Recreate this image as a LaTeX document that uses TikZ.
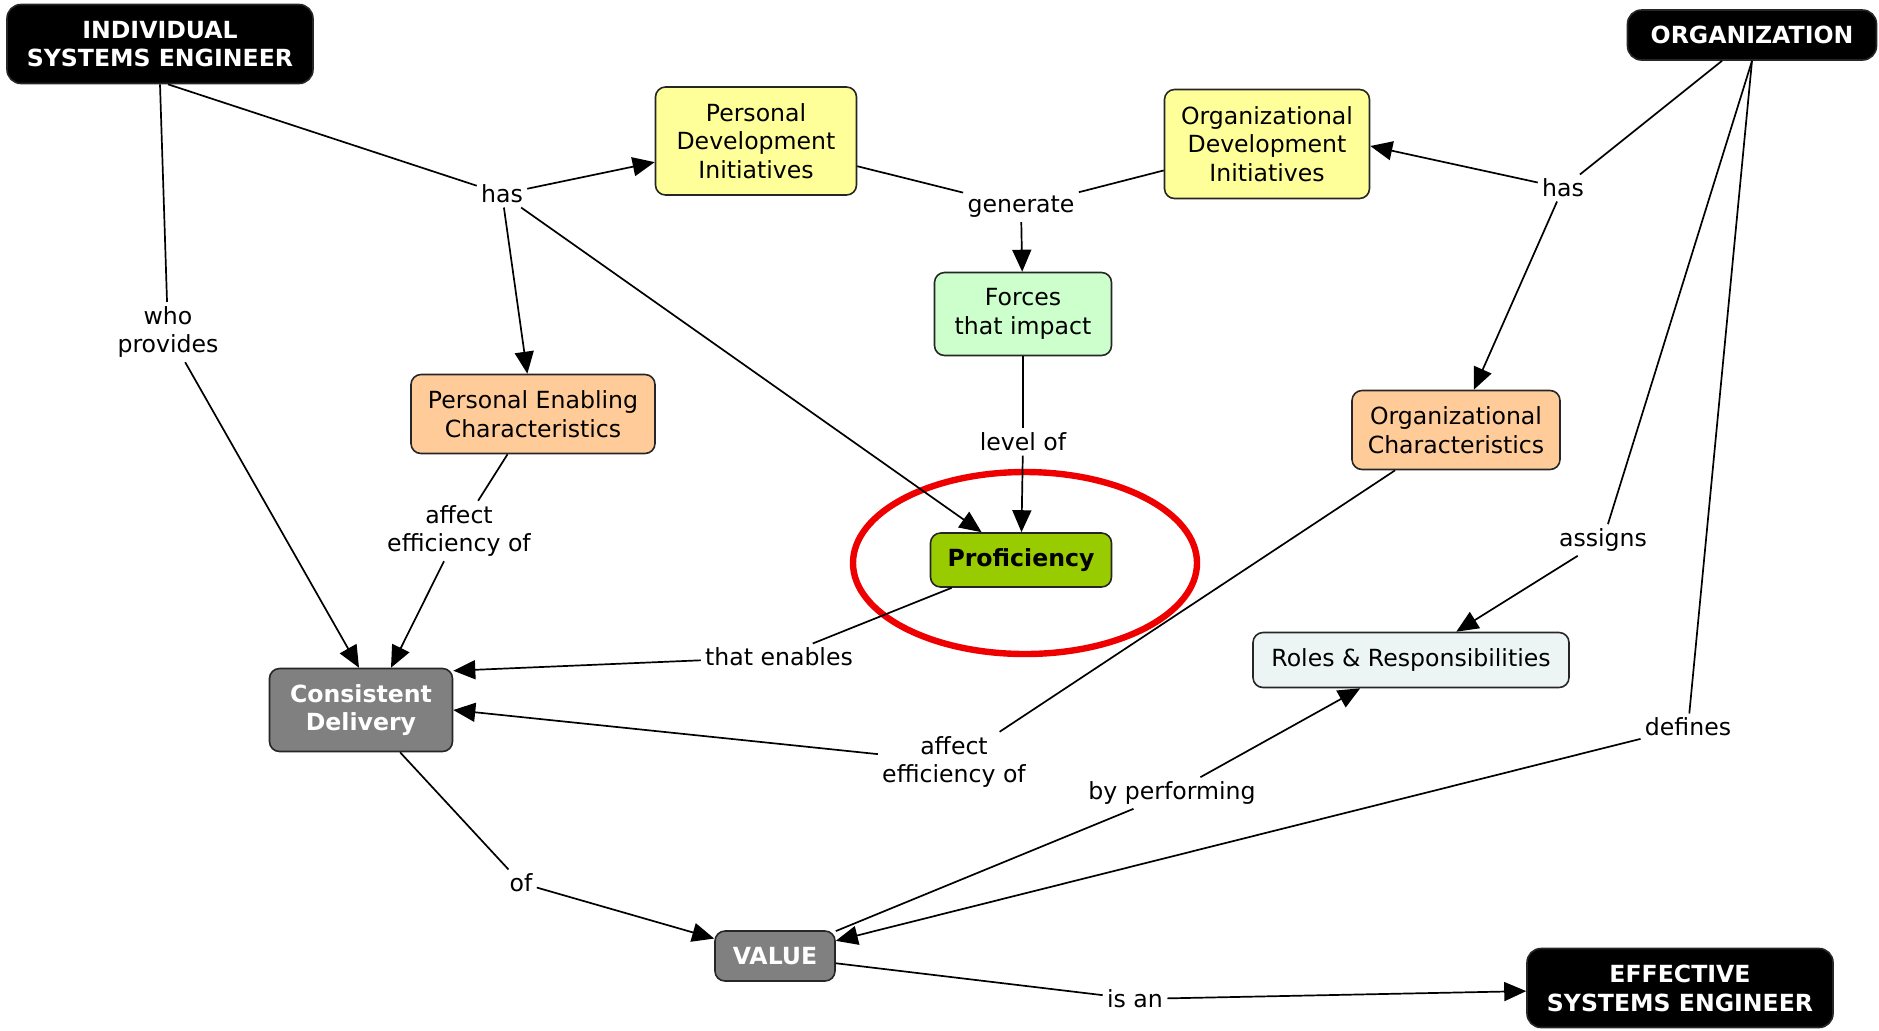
\documentclass[tikz,border=0pt]{standalone}
\usepackage{fontspec}
\setmainfont{DejaVu Sans}
\usetikzlibrary{arrows.meta,calc}

\definecolor{devyellow}{HTML}{FFFF99}
\definecolor{forcegreen}{HTML}{CCFFCC}
\definecolor{charorange}{HTML}{FFCC99}
\definecolor{profgreen}{HTML}{99CC00}
\definecolor{deliverygray}{HTML}{808080}
\definecolor{rolesblue}{HTML}{EDF4F4}
\definecolor{markred}{HTML}{EE0000}

\begin{document}
\begin{tikzpicture}[x=0.5pt,y=-0.5pt,
  concept/.style={draw=black!85, line width=0.8pt, rounded corners=5pt,
    align=center, inner sep=0pt,
    font=\fontsize{11.8}{14.4}\selectfont},
  keynode/.style={concept, fill=black, text=white, rounded corners=7pt,
    font=\bfseries\fontsize{11.8}{14.4}\selectfont},
  devnode/.style={concept, fill=devyellow},
  forcenode/.style={concept, fill=forcegreen},
  charnode/.style={concept, fill=charorange},
  profnode/.style={concept, fill=profgreen,
    font=\bfseries\fontsize{11.8}{14.4}\selectfont},
  graynode/.style={concept, fill=deliverygray, text=white,
    font=\bfseries\fontsize{11.8}{14.4}\selectfont},
  rolesnode/.style={concept, fill=rolesblue},
  link/.style={inner sep=2pt, align=center,
    font=\fontsize{11.8}{14.4}\selectfont},
  conn/.style={line width=0.85pt, black},
  arr/.style={conn, -{Triangle[length=11pt,width=9.5pt]}},
]
\useasboundingbox (0,0) rectangle (1879,1030);

% highlight ring around the proficiency concept
\draw[markred, line width=3.2pt] (1025,563) ellipse [x radius=172, y radius=91];

% concepts
\node[keynode, minimum width=153pt, minimum height=39.5pt] (ise) at (160,44)
  {INDIVIDUAL\\SYSTEMS ENGINEER};
\node[keynode, minimum width=124.5pt, minimum height=25pt] (org) at (1752,35)
  {ORGANIZATION};
\node[devnode, minimum width=100.5pt, minimum height=54pt] (pdi) at (756,141)
  {Personal\\Development\\Initiatives};
\node[devnode, minimum width=102.5pt, minimum height=54.5pt] (odi) at (1267,144)
  {Organizational\\Development\\Initiatives};
\node[forcenode, minimum width=88.5pt, minimum height=41.5pt] (forces) at (1023,314)
  {Forces\\that impact};
\node[charnode, minimum width=122pt, minimum height=39.5pt] (pec) at (533,414)
  {Personal Enabling\\Characteristics};
\node[charnode, minimum width=104pt, minimum height=39.5pt] (oc) at (1456,430)
  {Organizational\\Characteristics};
\node[profnode, minimum width=90.5pt, minimum height=27pt] (prof) at (1021,560)
  {Proficiency};
\node[graynode, minimum width=91.5pt, minimum height=41.5pt] (cd) at (361,710)
  {Consistent\\Delivery};
\node[rolesnode, minimum width=158pt, minimum height=27.5pt] (rr) at (1411,660)
  {Roles \& Responsibilities};
\node[graynode, minimum width=60pt, minimum height=25pt] (value) at (775,956)
  {VALUE};
\node[keynode, minimum width=153pt, minimum height=39.5pt] (ese) at (1680,988)
  {EFFECTIVE\\SYSTEMS ENGINEER};

% linking phrases
\node[link] (hasL) at (502,194) {has};
\node[link] (who) at (168,332) {who\\provides};
\node[link] (gen) at (1021,207) {generate};
\node[link] (hasR) at (1563,188) {has};
\node[link] (levelof) at (1023,442) {level of};
\node[link] (affL) at (459,531) {affect\\efficiency of};
\node[link] (assigns) at (1603,540) {assigns};
\node[link] (enables) at (779,657) {that enables};
\node[link] (affR) at (954,762) {affect\\efficiency of};
\node[link] (defines) at (1688,727) {defines};
\node[link] (byperf) at (1172,793) {by performing};
\node[link] (of) at (521,883) {of};
\node[link] (isan) at (1135,999) {is an};

% individual branch
\draw[conn] ([xshift=4pt]ise.south) -- (hasL);
\draw[arr] (hasL) -- (pdi);
\draw[arr] (hasL) -- (pec);
\draw[arr] (hasL) -- (prof);
\draw[conn] (ise.south) -- (who);
\draw[arr] (who) -- ([xshift=-1pt]cd.north);

% development initiatives
\draw[conn] (pdi) -- (gen);
\draw[conn] (odi) -- (gen);
\draw[arr] (gen) -- (forces);
\draw[conn] (forces) -- (levelof);
\draw[arr] (levelof) -- (prof);

% organization branch
\draw[conn] ([xshift=-15pt]org.south) -- (hasR);
\draw[arr] (hasR) -- ([yshift=-1pt]odi.east);
\draw[arr] (hasR) -- (oc);
\draw[conn] (org.south) -- (assigns);
\draw[arr] (assigns) -- (rr);
\draw[conn] (org.south) -- (defines);
\draw[arr] (defines) -- (value);

% into consistent delivery
\draw[conn] (pec) -- (affL);
\draw[arr] (affL) -- ([xshift=15pt]cd.north);
\draw[conn] (prof) -- (enables);
\draw[arr] (enables) -- ($(cd.north east)+(0,3)$);
\draw[conn] (oc) -- (affR);
\draw[arr] (affR) -- (cd.east);

% value chain
\draw[conn] (value) -- (byperf);
\draw[arr] (byperf) -- (rr);
\draw[conn] (cd) -- (of);
\draw[arr] (of) -- (value);
\draw[conn] (value) -- (isan);
\draw[arr] (isan) -- (ese);
\end{tikzpicture}
\end{document}
